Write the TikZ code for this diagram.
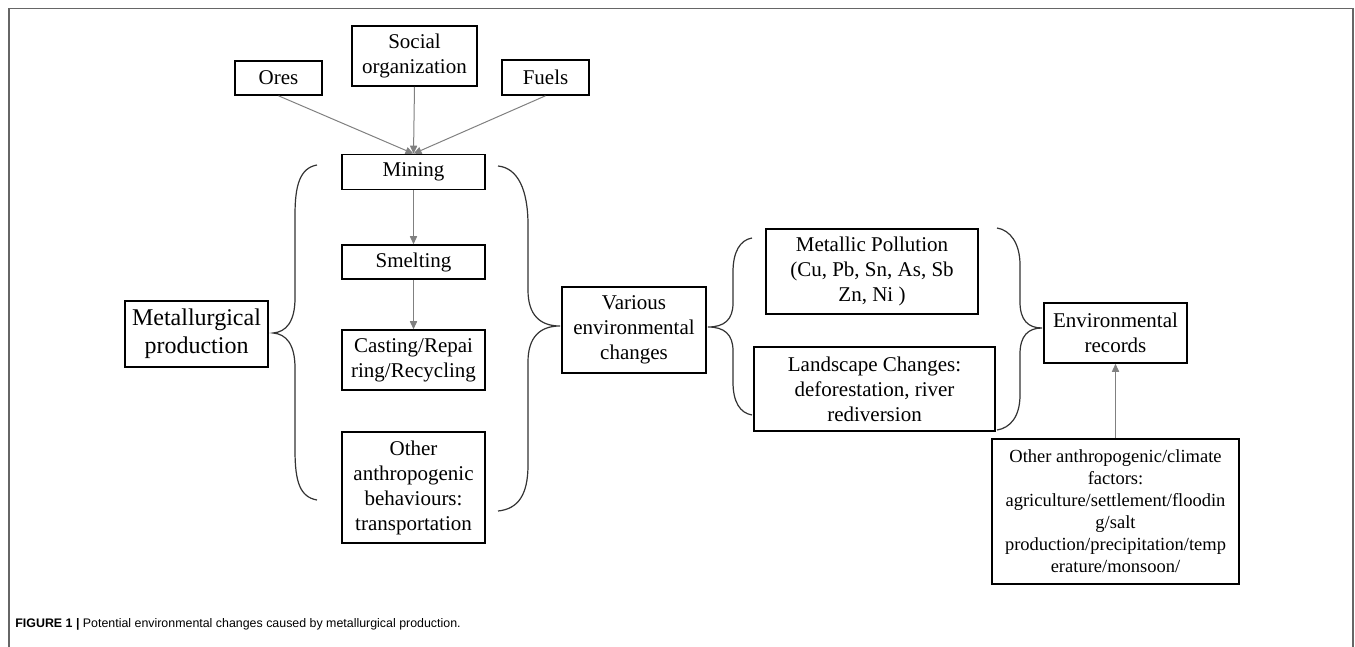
\documentclass[tikz,border=0pt]{standalone}
\usepackage{fontspec}
\setmainfont{Liberation Serif}
\newfontfamily\capfont{Liberation Sans}
\usetikzlibrary{arrows.meta}

\begin{document}
\begin{tikzpicture}[x=0.5pt, y=-0.5pt,
    box/.style={draw, line width=0.8pt, align=center, inner sep=0pt,
        font=\fontsize{10.5}{12.5}\selectfont},
    feed/.style={draw=gray, line width=0.5pt, -{Triangle[length=4pt,width=3.6pt]}},
    curly/.style={draw=black!80, line width=0.6pt}]

        % fix the page to the size of the figure
        \useasboundingbox (0,0) rectangle (1355,647);
        % frame round the figure, open at the bottom
        \draw[gray!80!black, line width=0.8pt] (9,647) -- (9,8.5) -- (1353,8.5) -- (1353,647);

        % inputs
        \node[box, minimum width=43.5pt, minimum height=17pt] (ores) at (278.5,78) {Ores};
        \node[box, minimum width=62.5pt, minimum height=30pt] (social) at (414.5,56) {Social\\organization};
        \node[box, minimum width=43.5pt, minimum height=17.5pt] (fuels) at (545.5,77.5) {Fuels};

        % chain of production
        \node[box, minimum width=71.5pt, minimum height=17.5pt] (mining) at (413.5,172) {Mining};
        \node[box, minimum width=71.5pt, minimum height=17pt] (smelting) at (413.5,262) {Smelting};
        \node[box, minimum width=71.5pt, minimum height=30pt] (casting) at (413.5,360) {Casting/Repai\\ring/Recycling};
        \node[box, minimum width=71.5pt, minimum height=55.5pt] (otherbeh) at (413.5,487.5) {Other\\anthropogenic\\behaviours:\\transportation};
        \node[box, minimum width=71.5pt, minimum height=33pt, font=\fontsize{12}{14}\selectfont] (metprod) at (196.5,334) {Metallurgical\\production};

        % changes and records
        \node[box, minimum width=72pt, minimum height=43pt] (various) at (634,330) {Various\\environmental\\changes};
        \node[box, minimum width=106pt, minimum height=42.5pt] (pollution) at (872,271.5) {Metallic Pollution\\(Cu, Pb, Sn, As, Sb\\Zn, Ni )};
        \node[box, minimum width=120.5pt, minimum height=42pt] (landscape) at (874.5,389) {Landscape Changes:\\deforestation, river\\rediversion};
        \node[box, minimum width=71.5pt, minimum height=30pt] (records) at (1115.5,333) {Environmental\\records};
        \node[box, minimum width=123.5pt, minimum height=72.5pt, font=\fontsize{9.25}{11}\selectfont] (factors) at (1115.5,511.5)
            {Other anthropogenic/climate\\factors:\\agriculture/settlement/floodin\\g/salt\\production/precipitation/temp\\erature/monsoon/};

        % arrows
        \draw[feed] (ores.south) -- (mining.north);
        \draw[feed] (social.south) -- (mining.north);
        \draw[feed] (fuels.south) -- (mining.north);
        \draw[feed] (mining.south) -- (smelting.north);
        \draw[feed] (smelting.south) -- (casting.north);
        \draw[feed] (factors.north) -- (records.south);

        % braces
        \draw[curly] (317,165) .. controls (300,168) and (295,185) .. (295,215) -- (295,298)
            .. controls (295,322) and (286,332) .. (273,333) .. controls (286,334) and (295,344) .. (295,368)
            -- (295,450) .. controls (295,482) and (300,497) .. (317,500);
        \draw[curly] (498,166) .. controls (518,168) and (528,190) .. (528,225) -- (528,290)
            .. controls (528,315) and (540,326) .. (560,326) .. controls (540,326) and (528,337) .. (528,362)
            -- (528,465) .. controls (528,495) and (518,509) .. (498,511);
        \draw[curly] (752,238) .. controls (740,240) and (733,252) .. (733,272) -- (733,303)
            .. controls (733,320) and (724,327) .. (708,327) .. controls (724,327) and (733,334) .. (733,351)
            -- (733,382) .. controls (733,402) and (740,413) .. (752,415);
        \draw[curly] (997,228) .. controls (1010,230) and (1020,243) .. (1020,265) -- (1020,302)
            .. controls (1020,320) and (1028,328) .. (1042,328) .. controls (1028,328) and (1020,336) .. (1020,354)
            -- (1020,395) .. controls (1020,417) and (1010,428) .. (997,430);

        % caption
        \node[anchor=west, inner sep=0pt, font=\capfont\fontsize{6.2}{7.5}\selectfont] (caption) at (15,624)
            {\textbf{FIGURE 1 |} Potential environmental changes caused by metallurgical production.};

\end{tikzpicture}
\end{document}
